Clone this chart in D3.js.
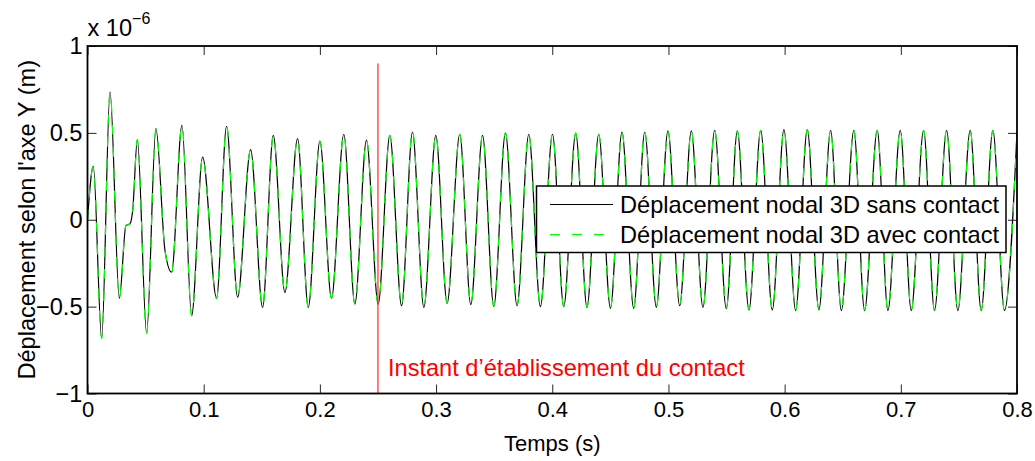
<!DOCTYPE html>
<html>
<head>
<meta charset="utf-8">
<script src="https://cdn.jsdelivr.net/npm/d3@7"></script>
<style>
  html, body { margin: 0; padding: 0; background: #fff; }
  svg { display: block; font-family: "Liberation Sans", Arial, sans-serif; }
</style>
</head>
<body>
<svg id="chart" width="1035" height="461"></svg>
<script>
// ---- Data (values in units of 1e-6 m) ----
const times = [
  0, 0.0050, 0.0122, 0.0194, 0.0274, 0.0331, 0.0366, 0.0389, 0.0429, 0.0509,
  0.0589, 0.0667, 0.0724, 0.0813, 0.0896, 0.0991, 0.1111, 0.1197, 0.1292, 0.1404,
  0.1507, 0.1599, 0.1699, 0.1808, 0.1900, 0.2000, 0.2100, 0.2206, 0.2301, 0.2401,
  0.2502, 0.2602, 0.2703, 0.2797, 0.2895, 0.2998, 0.3095, 0.3204, 0.3299, 0.3400,
  0.3497, 0.3597, 0.3697, 0.3798, 0.3898, 0.4002, 0.4099, 0.4202, 0.4299, 0.4400,
  0.4501, 0.4600, 0.4701, 0.4796, 0.4896, 0.4996, 0.5097, 0.5197, 0.5297, 0.5398,
  0.5498, 0.5593, 0.5693, 0.5794, 0.5894, 0.5994, 0.6095, 0.6195, 0.6295, 0.6396,
  0.6488, 0.6596, 0.6688, 0.6797, 0.6889, 0.6995, 0.7090, 0.7196, 0.7290, 0.7394,
  0.7491, 0.7597, 0.7692, 0.7792, 0.7892, 0.8000
];
const sansContact = [
  0, 0.307, -0.683, 0.736, -0.452, -0.033, -0.023, 0.054, 0.461, -0.652,
  0.525, -0.177, -0.302, 0.544, -0.552, 0.361, -0.452, 0.538, -0.446, 0.404,
  -0.504, 0.486, -0.418, 0.467, -0.504, 0.452, -0.452, 0.492, -0.485, 0.458,
  -0.485, 0.486, -0.495, 0.505, -0.504, 0.486, -0.481, 0.492, -0.489, 0.486,
  -0.499, 0.500, -0.495, 0.492, -0.500, 0.492, -0.500, 0.498, -0.504, 0.492,
  -0.510, 0.504, -0.510, 0.505, -0.504, 0.511, -0.495, 0.511, -0.504, 0.515,
  -0.512, 0.511, -0.519, 0.515, -0.519, 0.519, -0.523, 0.519, -0.519, 0.515,
  -0.523, 0.515, -0.523, 0.515, -0.523, 0.515, -0.523, 0.515, -0.523, 0.515,
  -0.523, 0.515, -0.523, 0.515, -0.523, 0.505
];
const avecContact = [
  0, 0.307, -0.683, 0.736, -0.452, -0.033, -0.023, 0.054, 0.461, -0.652,
  0.525, -0.177, -0.302, 0.544, -0.552, 0.361, -0.452, 0.538, -0.446, 0.404,
  -0.504, 0.486, -0.418, 0.467, -0.504, 0.452, -0.452, 0.492, -0.485, 0.458,
  -0.485, 0.486, -0.490, 0.515, -0.500, 0.486, -0.478, 0.492, -0.486, 0.486,
  -0.496, 0.500, -0.492, 0.492, -0.497, 0.492, -0.497, 0.498, -0.500, 0.492,
  -0.506, 0.504, -0.506, 0.505, -0.500, 0.511, -0.492, 0.511, -0.500, 0.515,
  -0.508, 0.511, -0.515, 0.515, -0.515, 0.519, -0.519, 0.519, -0.515, 0.515,
  -0.519, 0.515, -0.519, 0.515, -0.519, 0.515, -0.519, 0.515, -0.519, 0.515,
  -0.519, 0.515, -0.519, 0.515, -0.519, 0.505
];
const xTicks = [0, 0.1, 0.2, 0.3, 0.4, 0.5, 0.6, 0.7, 0.8];
const yTicks = [-1, -0.5, 0, 0.5, 1];
const seriesNames = ["Déplacement nodal 3D sans contact", "Déplacement nodal 3D avec contact"];
const contactTime = 0.25;
const contactLineTop = 0.9;
const contactLabel = "Instant d’établissement du contact";
const xLabel = "Temps (s)";
const yLabel = "Déplacement selon l'axe Y (m)";
const exponentBase = "x 10";
const exponentPower = "−6";

// ---- Layout ----
const svg = d3.select("#chart");
const L = 87.5, R = 1017, T = 46, B = 393.5;
const x = d3.scaleLinear().domain([0, 0.8]).range([L, R]);
const y = d3.scaleLinear().domain([-1, 1]).range([B, T]);
const fmt = v => (v < 0 ? "−" + Math.abs(v) : String(v));
const FS = 23.6;
const FSX = 22;

svg.append("defs").append("clipPath").attr("id", "clip")
  .append("rect").attr("x", L).attr("y", T).attr("width", R - L).attr("height", B - T);

// data lines
const line = d3.line().x(d => x(d[0])).y(d => y(d[1])).curve(d3.curveMonotoneX);
const dataBlack = times.map((t, i) => [t, sansContact[i]]);
const dataGreen = times.map((t, i) => [t, avecContact[i]]);
const plot = svg.append("g").attr("clip-path", "url(#clip)");
plot.append("path").datum(dataBlack).attr("d", line)
  .attr("fill", "none").attr("stroke", "#000").attr("stroke-width", 1.2);
plot.append("path").datum(dataGreen).attr("d", line)
  .attr("fill", "none").attr("stroke", "#00ff00").attr("stroke-width", 1.2)
  .attr("stroke-dasharray", "10,12");

// contact line
svg.append("line")
  .attr("x1", x(contactTime)).attr("x2", x(contactTime))
  .attr("y1", y(contactLineTop)).attr("y2", y(-1))
  .attr("stroke", "#ff0000").attr("stroke-width", 1);
svg.append("text").attr("x", x(contactTime) + 10).attr("y", 376)
  .attr("font-size", FS).attr("fill", "#ff0000").text(contactLabel);

// axes
function styleAxis(size) {
  return g => {
    g.select(".domain").remove();
    g.selectAll(".tick line").attr("stroke", "#262626").attr("stroke-width", 1);
    g.selectAll(".tick text").attr("font-size", size).attr("fill", "#000")
      .attr("font-family", "Liberation Sans, Arial, sans-serif");
  };
}
svg.append("g").attr("transform", `translate(0,${B})`)
  .call(d3.axisBottom(x).tickValues(xTicks).tickFormat(fmt).tickSizeInner(-9).tickSizeOuter(0).tickPadding(8))
  .call(styleAxis(FSX));
svg.append("g").attr("transform", `translate(0,${T})`)
  .call(d3.axisTop(x).tickValues(xTicks).tickFormat("").tickSizeInner(-9).tickSizeOuter(0))
  .call(styleAxis(FSX));
svg.append("g").attr("transform", `translate(${L},0)`)
  .call(d3.axisLeft(y).tickValues(yTicks).tickFormat(fmt).tickSizeInner(-9).tickSizeOuter(0).tickPadding(5))
  .call(styleAxis(FS));
svg.append("g").attr("transform", `translate(${R},0)`)
  .call(d3.axisRight(y).tickValues(yTicks).tickFormat("").tickSizeInner(-9).tickSizeOuter(0))
  .call(styleAxis(FS));

// box
svg.append("rect").attr("x", L).attr("y", T).attr("width", R - L).attr("height", B - T)
  .attr("fill", "none").attr("stroke", "#000").attr("stroke-width", 1.8);

// exponent
const ex = svg.append("text").attr("x", L).attr("y", 36).attr("font-size", FS).attr("fill", "#000");
ex.append("tspan").text(exponentBase);
ex.append("tspan").attr("dy", -12).attr("font-size", 16).text(exponentPower);

// axis labels
svg.append("text").attr("x", (L + R) / 2).attr("y", 451).attr("text-anchor", "middle")
  .attr("font-size", FSX).attr("fill", "#000").text(xLabel);
svg.append("text").attr("transform", `translate(35,${(T + B) / 2}) rotate(-90)`)
  .attr("text-anchor", "middle").attr("font-size", FS).attr("fill", "#000").text(yLabel);

// legend
const lg = svg.append("g");
lg.append("rect").attr("x", 536.5).attr("y", 186).attr("width", 469.5).attr("height", 66.5)
  .attr("fill", "#fff").attr("stroke", "#000").attr("stroke-width", 1.5);
const legendRows = [
  { name: seriesNames[0], color: "#000", dash: null, yy: 204.5 },
  { name: seriesNames[1], color: "#00ff00", dash: "10,12", yy: 234.5 }
];
legendRows.forEach(r => {
  lg.append("line").attr("x1", 550).attr("x2", 613).attr("y1", r.yy).attr("y2", r.yy)
    .attr("stroke", r.color).attr("stroke-width", 1.2).attr("stroke-dasharray", r.dash);
  lg.append("text").attr("x", 620).attr("y", r.yy + 8.5).attr("font-size", FS)
    .attr("fill", "#000").text(r.name);
});
</script>
</body>
</html>
